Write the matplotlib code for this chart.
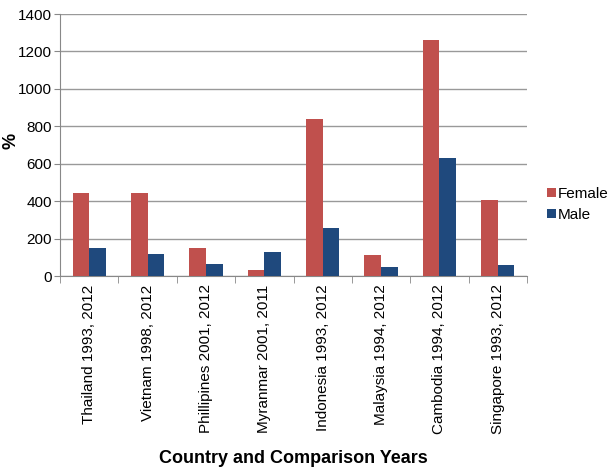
"""
Female vs male change (%) by country, grouped bar chart
"""
import numpy as np
import matplotlib
matplotlib.use("Agg")
import matplotlib.pyplot as plt

plt.rcParams['font.family'] = ['Liberation Sans', 'DejaVu Sans']

countries = ["Thailand 1993, 2012", "Vietnam 1998, 2012",
             "Phillipines 2001, 2012", "Myranmar 2001, 2011",
             "Indonesia 1993, 2012", "Malaysia 1994, 2012",
             "Cambodia 1994, 2012", "Singapore 1993, 2012"]
female = [442, 444, 151, 32, 837, 114, 1261, 404]
male = [151, 118, 62, 126, 255, 48, 629, 57]
y_ticks = [0, 200, 400, 600, 800, 1000, 1200, 1400]

RED = "#C0504D"
BLUE = "#1F497D"

fig = plt.figure(figsize=(6.1, 4.71), dpi=100)
ax = fig.add_axes([60 / 610, 1 - 276 / 471, 467 / 610, 262 / 471])

x = np.arange(len(countries))
w = 0.285
ax.bar(x - w / 2, female, w, color=RED, label="Female", zorder=3)
ax.bar(x + w / 2, male, w, color=BLUE, label="Male", zorder=3)

ax.set_xlim(-0.5, len(countries) - 0.5)
ax.set_ylim(0, 1400)
ax.set_yticks(y_ticks)
ax.tick_params(axis='y', labelsize=11, length=4, color="#888888", pad=2)

# category labels between boundary ticks
ax.set_xticks(x)
ax.set_xticklabels(countries, rotation=90, fontsize=11)
ax.tick_params(axis='x', which='major', length=0, pad=6)
ax.set_xticks(np.arange(-0.5, len(countries)), minor=True)
ax.tick_params(axis='x', which='minor', length=5, color="#888888")

ax.yaxis.grid(True, color="#999999", linewidth=1)
ax.set_axisbelow(True)
for side in ["top", "right"]:
    ax.spines[side].set_visible(False)
ax.spines["left"].set_color("#888888")
ax.spines["bottom"].set_color("#888888")

ax.set_ylabel("%", fontsize=13, fontweight="bold")
ax.yaxis.set_label_coords(-0.086, 0.515)
ax.set_xlabel("Country and Comparison Years", fontsize=13, fontweight="bold",
              labelpad=11)

ax.legend(loc="center left", bbox_to_anchor=(1.03, 0.272), frameon=False,
          fontsize=11, handlelength=0.55, handleheight=0.55,
          handletextpad=0.15, labelspacing=0.45, borderaxespad=0)

fig.savefig("out.png", dpi=100)
